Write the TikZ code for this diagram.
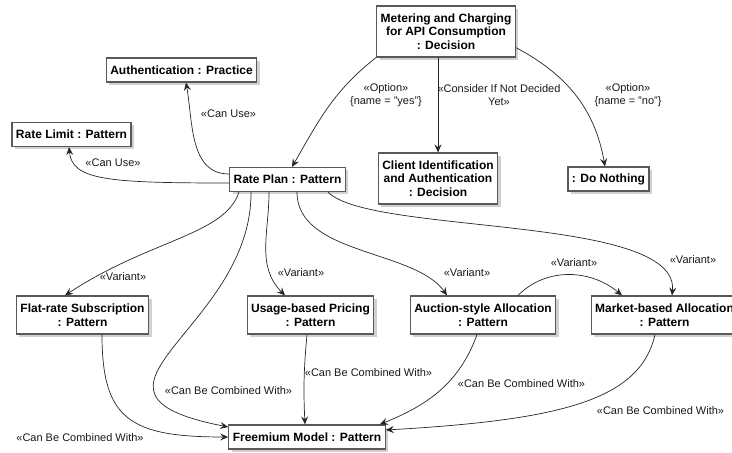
\documentclass[tikz,border=0pt]{standalone}
\usepackage{fontspec}
\setmainfont{Liberation Sans}
\usetikzlibrary{arrows.meta,shadows}

\tikzset{
  elem/.style={rectangle,draw=black!65,line width=1.2pt,fill=white,
    drop shadow={shadow xshift=3pt,shadow yshift=-3pt,fill=black!40,opacity=0.45},
    font=\fontsize{12}{13.5}\selectfont\bfseries,align=center,
    inner xsep=4pt,inner ysep=2pt,minimum height=24pt},
  twoline/.style={minimum height=38pt},
  threeline/.style={minimum height=51pt},
  rel/.style={draw=black!85,line width=0.7pt,-{Stealth[length=8pt,width=7pt,inset=3pt]}},
  lbl/.style={font=\fontsize{11}{13}\selectfont,align=center,inner sep=0pt,text=black!90}
}

\begin{document}
\begin{tikzpicture}[x=1pt,y=1pt]
        \useasboundingbox (0,0) rectangle (732,453);
        % elements
        \node at (446,421.5) [elem,threeline] (met) {Metering and Charging\\for API Consumption\\: Decision};
        \node at (181.5,383) [elem] (auth) {Authentication : Practice};
        \node at (71.5,318.5) [elem] (rl) {Rate Limit : Pattern};
        \node at (287.5,273.5) [elem] (rp) {Rate Plan : Pattern};
        \node at (438,274.5) [elem,threeline] (cli) {Client Identification\\and Authentication\\: Decision};
        \node at (608.5,274) [elem] (dn) {: Do Nothing};
        \node at (82.5,138) [elem,twoline] (flat) {Flat-rate Subscription\\: Pattern};
        \node at (310.5,138) [elem,twoline] (usage) {Usage-based Pricing\\: Pattern};
        \node at (483,138) [elem,twoline] (auct) {Auction-style Allocation\\: Pattern};
        \node at (664.5,138) [elem,twoline] (mkt) {Market-based Allocation\\: Pattern};
        \node at (307,16) [elem] (free) {Freemium Model : Pattern};
        % decision options
        \draw[rel] (met.south west) to[out=-142,in=60] ([xshift=4.5pt]rp.north);
        \draw[rel] (met.south -| cli.north) -- (cli.north);
        \draw[rel] ([yshift=10pt]met.south east) to[out=-28,in=100] ([xshift=-3.5pt]dn.north);
        \node at (386,357.5) [lbl] (lyes) {«Option»\\\{name = "yes"\}};
        \node at (499,357.5) [lbl] (lcons) {«Consider If Not Decided\\Yet»};
        \node at (628,357.5) [lbl] (lno) {«Option»\\\{name = "no"\}};
        % can use
        \draw[rel] ([yshift=5.5pt]rp.west) to[out=180,in=-80] ([xshift=4.5pt]auth.south);
        \draw[rel] ([yshift=-3.5pt]rp.west) .. controls +(-122,0) and +(3,-33) .. ([xshift=-2.5pt]rl.south);
        \node at (228.5,339) [lbl] (lauth) {«Can Use»};
        \node at (113,290) [lbl] (lrl) {«Can Use»};
        % variants
        \draw[rel] ([xshift=-48.5pt]rp.south) .. controls +(-14,-43) and +(85,56) .. ([xshift=-17.5pt]flat.north);
        \draw[rel] ([xshift=-18.5pt]rp.south) to[out=-90,in=135] ([xshift=-25.5pt]usage.north);
        \draw[rel] ([xshift=9.5pt]rp.south) .. controls +(0,-63) and +(-32,46) .. ([xshift=-36pt]auct.north);
        \draw[rel] ([xshift=40.5pt]rp.south) .. controls +(42,-43) and +(8,81) .. ([xshift=7.5pt]mkt.north);
        \draw[rel] ([xshift=35pt]auct.north) to[out=45,in=140] ([xshift=-42.5pt]mkt.north);
        \node at (123,176) [lbl] (lflat) {«Variant»};
        \node at (301,180) [lbl] (lusage) {«Variant»};
        \node at (467,180) [lbl] (lauct) {«Variant»};
        \node at (693,193) [lbl] (lmkt) {«Variant»};
        \node at (574,190) [lbl] (lam) {«Variant»};
        % combined with
        \draw[rel] ([xshift=-36.5pt]rp.south) .. controls +(1,-138) and +(-178,35) .. ([yshift=10pt]free.west);
        \draw[rel] ([xshift=19.5pt]flat.south) .. controls +(0,-85) and +(-98,0) .. (free.west);
        \draw[rel] ([xshift=-3.5pt]usage.south) to[bend right=4] ([xshift=-2pt]free.north);
        \draw[rel] ([xshift=-6pt]auct.south) to[out=-110,in=22] ([xshift=-6pt]free.north east);
        \draw[rel] ([xshift=-9.5pt]mkt.south) .. controls +(-15,-66) and +(174,10) .. ([yshift=7pt]free.east);
        \node at (228.5,62) [lbl] (lrpfree) {«Can Be Combined With»};
        \node at (80,15) [lbl] (lflatfree) {«Can Be Combined With»};
        \node at (368.5,80) [lbl] (lusagefree) {«Can Be Combined With»};
        \node at (521.5,69) [lbl] (lauctfree) {«Can Be Combined With»};
        \node at (660.5,42) [lbl] (lmktfree) {«Can Be Combined With»};
\end{tikzpicture}
\end{document}
